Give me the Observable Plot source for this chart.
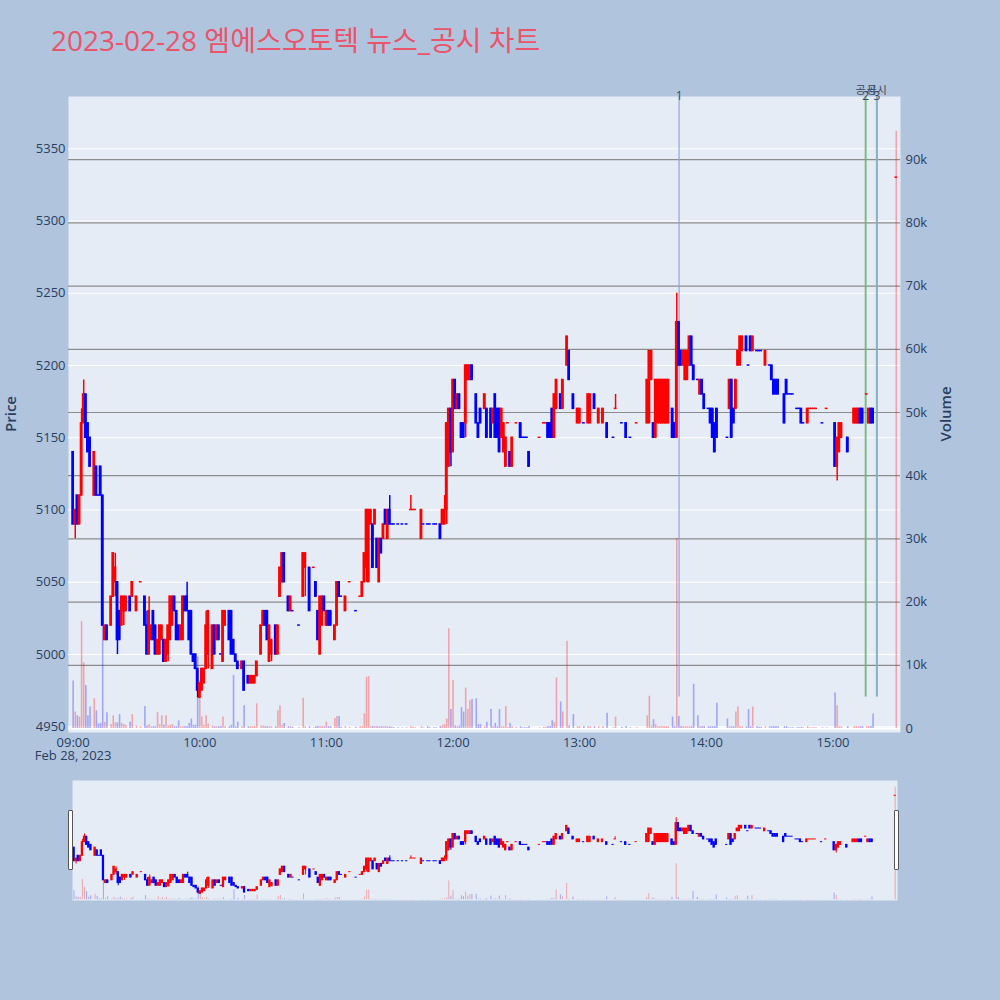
<!DOCTYPE html>
<html>
<head>
<meta charset="utf-8">
<script src="https://cdn.jsdelivr.net/npm/d3@7"></script>
<script src="https://cdn.jsdelivr.net/npm/@observablehq/plot@0.6"></script>
<style>
  html, body { margin: 0; padding: 0; background: #b0c4de; }
  #wrap { position: relative; width: 1000px; height: 1000px; background: #b0c4de; overflow: hidden;
          font-family: 'Open Sans', 'Noto Sans CJK KR', sans-serif; }
  .layer { position: absolute; left: 0; top: 0; }
  #title { position: absolute; left: 51px; top: 26px; font-size: 28px; line-height: 1; color: #e9546b; white-space: nowrap; }
  .ytitle { position: absolute; width: 80px; height: 20px; line-height: 20px; text-align: center;
            font-size: 15px; font-weight: 600; color: #2a3f5f; transform: rotate(-90deg); }
  .grab { position: absolute; top: 810px; width: 3px; height: 58px; background: #fff; border: 1px solid #555; border-radius: 1px; }
</style>
</head>
<body>
<div id="wrap">
  <div id="title">2023-02-28 엠에스오토텍 뉴스_공시 차트</div>
</div>
<script>
// ---- data: one-minute candles of 2023-02-28 (minutes after 09:00) ----
const minute = [
  0,1,2,3,4,5,6,7,8,10,11,12,13,14,15,16,18,19,20,21,22,23,24,25,27,28,
  30,32,34,35,36,37,38,39,40,41,42,43,44,45,46,47,48,49,50,51,52,53,54,55,56,57,58,59,60,61,62,63,64,
  66,67,68,69,70,71,72,74,75,76,77,78,80,81,83,84,85,86,87,89,90,91,92,93,94,96,97,98,99,100,
  102,103,104,107,109,110,112,114,115,116,117,118,119,120,121,122,124,125,126,127,129,131,134,136,137,138,139,140,
  141,142,143,144,145,146,147,148,149,150,151,152,154,156,158,160,161,162,165,166,168,169,171,172,174,175,176,177,178,179,180,
  181,182,183,184,185,186,187,188,189,191,192,193,195,196,198,199,200,201,202,203,204,205,206,207,208,210,212,213,214,215,216,
  221,223,224,225,226,227,228,229,231,232,234,235,237,239,240,242,244,245,247,249,251,253,256,257,260,262,264,
  267,272,273,274,275,276,277,278,279,280,281,282,284,285,286,287,288,289,290,291,292,293,294,296,297,298,299,301,302,303,304,305,
  310,311,312,313,314,315,316,317,319,320,321,322,324,325,326,328,330,331,332,333,334,337,338,339,340,341,343,344,345,346,348,349,350,351,352,355,357,
  361,362,363,364,367,370,371,372,373,374,376,377,378,379,390
];
const open = [
  5140,5090,5110,5090,5110,5160,5180,5160,5150,5110,5130,5110,5130,5110,5010,5020,5020,5040,5050,5050,5030,5020,5030,5030,5040,5040,
  5030,5050,5040,5020,5000,5010,5030,5020,5000,5000,5010,5010,4995,5000,5010,5020,5040,5030,5020,5010,5010,5040,5040,5030,5030,5000,5000,4990,4970,4975,4980,4990,5000,
  4990,5020,5010,5020,5000,4995,5020,5030,5030,5010,5000,4995,4990,4995,4985,4980,4980,4980,4985,5000,5020,5030,5030,4995,5000,5020,5000,5040,5050,5070,
  5040,5030,5030,5020,5040,5060,5060,5060,5050,5030,5000,5020,5040,5020,5030,5030,5010,5020,5050,5040,5030,5050,5030,5040,5040,5050,5060,5050,
  5090,5090,5090,5080,5050,5080,5080,5100,5080,5100,5090,5090,5090,5090,5090,5100,5100,5100,5080,5090,5090,5090,5090,5090,5090,5090,5090,5100,5130,5170,5140,
  5190,5170,5180,5160,5160,5160,5190,5190,5200,5180,5160,5170,5170,5170,5170,5160,5180,5170,5170,5150,5140,5130,5160,5140,5130,5160,5160,5150,5150,5150,5140,
  5150,5160,5160,5160,5160,5170,5150,5170,5180,5170,5200,5210,5180,5160,5160,5160,5160,5160,5180,5160,5160,5160,5150,5170,5160,5160,5150,
  5160,5160,5160,5190,5160,5150,5160,5160,5160,5160,5160,5160,5170,5160,5150,5230,5210,5200,5190,5190,5200,5220,5200,5190,5180,5190,5180,5170,5170,5170,5160,5170,
  5150,5170,5190,5170,5170,5200,5200,5210,5220,5200,5220,5210,5210,5210,5210,5200,5200,5200,5190,5190,5190,5180,5190,5180,5180,5180,5170,5170,5170,5160,5160,5170,5170,5170,5170,5160,5170,
  5160,5130,5140,5150,5150,5160,5160,5160,5170,5170,5180,5160,5170,5170,5330
];
const high = [
  5140,5100,5110,5110,5170,5190,5180,5160,5150,5140,5130,5110,5130,5110,5020,5020,5040,5070,5070,5050,5030,5040,5040,5040,5040,5050,
  5040,5050,5040,5030,5040,5020,5030,5020,5010,5020,5020,5010,5010,5020,5040,5040,5040,5030,5020,5020,5040,5040,5050,5030,5030,5000,5000,4990,4980,4990,4990,5030,5030,
  5020,5020,5020,5020,5000,5030,5030,5030,5030,5010,5000,4995,4995,4995,4985,4985,4985,4985,4995,5020,5030,5030,5030,5020,5010,5020,5020,5060,5070,5070,
  5040,5040,5030,5020,5070,5070,5060,5060,5050,5030,5040,5040,5040,5030,5030,5030,5020,5050,5050,5040,5040,5050,5030,5040,5050,5070,5100,5100,
  5100,5090,5100,5080,5080,5080,5090,5100,5100,5110,5090,5090,5090,5090,5090,5110,5100,5100,5100,5090,5090,5090,5090,5090,5090,5100,5110,5160,5170,5170,5190,
  5190,5180,5180,5160,5160,5200,5200,5200,5200,5180,5160,5170,5180,5170,5170,5170,5180,5170,5170,5170,5160,5150,5160,5140,5150,5160,5160,5150,5150,5150,5140,
  5150,5160,5160,5160,5160,5170,5180,5190,5180,5190,5220,5210,5180,5170,5170,5160,5180,5180,5180,5170,5170,5160,5150,5180,5160,5160,5150,
  5160,5190,5210,5210,5160,5190,5190,5190,5190,5190,5190,5190,5170,5160,5250,5230,5210,5210,5210,5210,5220,5220,5200,5190,5190,5190,5180,5170,5170,5170,5160,5170,
  5150,5190,5190,5170,5190,5210,5220,5220,5220,5200,5220,5220,5210,5210,5210,5210,5200,5200,5190,5190,5190,5180,5190,5180,5180,5180,5170,5170,5170,5160,5170,5170,5170,5170,5170,5160,5170,
  5160,5150,5160,5160,5150,5170,5170,5170,5170,5170,5180,5170,5170,5170,5330
];
const low = [
  5090,5080,5090,5090,5110,5160,5150,5140,5130,5110,5110,5110,5110,5020,5010,5010,5020,5040,5040,5000,5010,5020,5020,5030,5030,5040,
  5030,5050,5020,5000,5000,5010,5010,5000,5000,5000,5010,4995,4995,4995,5010,5020,5030,5010,5010,5010,5010,5030,5030,5010,5000,4995,4990,4970,4970,4975,4980,4990,4990,
  4990,5000,5010,5010,5000,4995,5020,5010,5000,5000,4995,4990,4990,4975,4980,4980,4980,4980,4985,5000,5020,5020,5010,4995,4995,5000,5000,5040,5050,5050,
  5030,5030,5030,5020,5040,5040,5030,5060,5040,5010,5000,5020,5030,5020,5020,5020,5010,5020,5040,5040,5030,5050,5030,5040,5040,5050,5050,5050,
  5090,5060,5090,5060,5050,5070,5080,5090,5080,5090,5090,5090,5090,5090,5090,5100,5100,5100,5080,5090,5090,5090,5090,5090,5080,5090,5090,5090,5130,5130,5140,
  5170,5170,5170,5150,5150,5150,5190,5190,5190,5160,5150,5160,5170,5150,5150,5160,5150,5150,5140,5150,5140,5130,5160,5130,5130,5160,5150,5150,5150,5150,5130,
  5150,5160,5160,5150,5150,5150,5150,5170,5170,5170,5200,5190,5170,5160,5160,5160,5160,5160,5170,5160,5160,5150,5150,5170,5160,5150,5150,
  5160,5160,5160,5190,5150,5150,5160,5160,5160,5160,5160,5160,5150,5150,5150,5200,5200,5200,5190,5190,5200,5200,5190,5190,5180,5180,5170,5170,5160,5150,5140,5150,
  5150,5170,5150,5160,5170,5200,5200,5210,5210,5200,5210,5210,5210,5210,5210,5200,5200,5190,5180,5180,5180,5160,5180,5180,5180,5180,5170,5170,5160,5160,5160,5170,5170,5170,5170,5160,5170,
  5130,5120,5140,5150,5140,5160,5160,5160,5160,5160,5180,5160,5160,5160,5330
];
const close = [
  5090,5100,5090,5110,5160,5180,5150,5140,5130,5140,5110,5110,5110,5020,5020,5010,5040,5070,5060,5010,5010,5040,5040,5040,5030,5050,
  5040,5050,5020,5000,5030,5020,5010,5000,5010,5020,5020,4995,5010,5020,5040,5040,5030,5010,5010,5020,5040,5030,5030,5010,5000,4995,4990,4975,4980,4990,4990,5020,5030,
  5020,5000,5020,5010,5000,5030,5030,5010,5000,5000,4995,4990,4995,4975,4980,4985,4985,4985,4995,5020,5030,5020,5010,5020,5010,5000,5020,5060,5070,5050,
  5030,5040,5030,5020,5070,5070,5030,5060,5040,5010,5040,5040,5030,5030,5020,5020,5020,5050,5040,5040,5040,5050,5030,5040,5050,5070,5100,5100,
  5100,5060,5100,5060,5080,5070,5090,5090,5100,5090,5090,5090,5090,5090,5090,5100,5100,5100,5100,5090,5090,5090,5090,5090,5080,5100,5100,5160,5170,5140,5190,
  5170,5180,5170,5150,5150,5200,5200,5200,5190,5160,5150,5160,5180,5150,5150,5170,5150,5150,5140,5170,5160,5150,5160,5130,5150,5160,5150,5150,5150,5150,5130,
  5150,5160,5160,5150,5150,5150,5180,5190,5170,5190,5220,5190,5170,5170,5170,5160,5180,5180,5170,5170,5170,5150,5150,5170,5160,5150,5150,
  5160,5190,5210,5210,5150,5190,5190,5190,5190,5190,5190,5190,5150,5150,5230,5200,5200,5210,5210,5210,5220,5200,5190,5190,5190,5180,5170,5170,5160,5150,5140,5150,
  5150,5190,5150,5160,5190,5210,5220,5220,5210,5200,5210,5220,5210,5210,5210,5210,5200,5190,5180,5180,5180,5160,5180,5180,5180,5180,5170,5170,5160,5160,5170,5170,5170,5170,5170,5160,5170,
  5130,5150,5160,5160,5140,5170,5170,5170,5160,5160,5180,5170,5160,5160,5330
];
const volume = [
  7500,2600,2000,1800,16900,10400,6800,2000,3400,4700,2800,700,800,18000,1000,2500,600,2000,900,900,2200,800,600,500,1000,2200,
  400,300,3500,400,600,300,300,300,2500,600,2000,500,2000,400,500,600,300,300,1200,300,300,300,300,800,1500,500,500,11300,7600,1800,500,2000,700,
  400,300,300,300,300,1800,300,300,500,8400,300,1000,300,3600,300,300,300,300,3900,400,400,300,300,300,300,300,2800,3600,500,800,
  300,300,200,100,4800,300,300,100,300,300,300,300,300,1000,300,300,1600,1900,1900,200,300,200,200,300,300,2300,8100,8200,
  300,300,300,300,300,300,300,300,300,300,200,100,100,100,100,300,200,100,300,100,300,100,100,100,300,500,600,1500,15800,3000,7600,
  400,300,400,3300,2600,6400,3000,4400,4600,4700,600,600,300,1000,3000,300,800,300,3000,300,300,3500,200,800,300,200,300,100,100,100,300,
  100,200,200,300,300,1200,900,8000,4200,2600,13800,400,2200,300,300,300,300,300,300,300,300,2400,100,1800,200,300,100,
  100,2000,5100,400,1400,600,300,300,300,300,300,300,1800,300,30100,1900,300,300,300,300,300,300,7000,2000,300,300,300,300,300,300,300,4000,
  1500,300,300,300,2600,3400,300,300,300,3000,300,3400,300,200,200,300,300,300,300,300,300,300,300,100,100,100,100,100,200,100,300,100,100,100,100,100,100,
  5600,3600,300,300,300,300,300,300,300,300,300,300,300,2300,94500
];

// tick labels and annotation items
const priceTicks = [4950, 5000, 5050, 5100, 5150, 5200, 5250, 5300, 5350];
const volumeTicks = [0, 10000, 20000, 30000, 40000, 50000, 60000, 70000, 80000, 90000];
const hourLabels = ["09:00", "10:00", "11:00", "12:00", "13:00", "14:00", "15:00"];
const dateLabel = "Feb 28, 2023";
const noticeTime = ["13:47:06", "15:15:30", "15:20:48"];
const noticeNumber = ["1", "2", "3"];
const noticeTitle = ["", "공시", "공시"];

// ---- build ----
const T0 = Date.UTC(2023, 1, 28, 9, 0);
const at = m => new Date(T0 + m * 60000);
const clock = s => { const [H, M, S = 0] = s.split(":").map(Number); return new Date(Date.UTC(2023, 1, 28, H, M, S)); };
const UP = "#ff0000", DOWN = "#0000ff";

let inc = true, prevC = null;
const rows = minute.map((m, i) => {
  const o = open[i], c = close[i];
  if (c !== o) inc = c > o;
  else if (prevC !== null && c !== prevC) inc = c > prevC;
  prevC = c;
  return {t: at(m), t0: at(m - 0.3), t1: at(m + 0.3), o, h: high[i], l: low[i], c, v: volume[i],
          lo: Math.min(o, c), hi: Math.max(o, c), col: inc ? UP : DOWN};
});
const notices = noticeTime.map((s, i) => ({t: clock(s), n: noticeNumber[i], title: noticeTitle[i]}));
const hourDates = hourLabels.map(clock);

const fontFamily = "'Open Sans','Noto Sans CJK KR',sans-serif";
const priceDomain = [4946, 5386.2];
const volumeDomain = [-633, 100000];
const base = o => Object.assign({
  width: 1000, height: 1000,
  style: {background: "transparent", fontFamily, fontSize: "13px", color: "#2a3f5f", overflow: "visible"},
  color: {type: "identity"}
}, o);
const mainM = {marginTop: 96, marginBottom: 268, marginLeft: 68, marginRight: 100};
const rsM = {marginTop: 780, marginBottom: 100, marginLeft: 72, marginRight: 103};
const mainDomain = [at(-2.2), at(392)];
const rsDomain = [at(-0.7), at(391.1)];

const wrap = document.getElementById("wrap");
const add = el => { el.classList.add("layer"); wrap.appendChild(el); };

function candles(data, wick, inset) {
  return [
    Plot.ruleX(data, {x: "t", y1: "l", y2: "h", stroke: "col", strokeWidth: wick}),
    Plot.rect(data, {x1: "t0", x2: "t1", y1: "lo", y2: "hi", fill: "col", inset: -inset})
  ];
}

// layer 1: background, price grid, left and bottom axes
add(Plot.plot(base({
  ...mainM,
  x: {type: "utc", domain: mainDomain},
  y: {domain: priceDomain},
  marks: [
    Plot.frame({fill: "#e5ecf6", stroke: "none"}),
    Plot.gridY(priceTicks, {stroke: "#ffffff", strokeOpacity: 1, strokeWidth: 1}),
    Plot.axisY(priceTicks, {anchor: "left", tickSize: 0, tickPadding: 3, tickFormat: d3.format("d"), label: null}),
    Plot.axisX(hourDates, {anchor: "bottom", tickSize: 0, tickPadding: 5, label: null,
      tickFormat: d => d.getUTCHours() === 9 ? d3.utcFormat("%H:%M")(d) + "\n" + dateLabel : d3.utcFormat("%H:%M")(d)})
  ]
})));

// layer 2: volume grid, volume bars, notice lines, right axis
add(Plot.plot(base({
  ...mainM,
  x: {type: "utc", domain: mainDomain, axis: null},
  y: {domain: volumeDomain},
  marks: [
    Plot.ruleY([0], {stroke: "#ffffff", strokeWidth: 2}),
    Plot.gridY(volumeTicks.filter(v => v > 0), {stroke: "#8c8c8c", strokeOpacity: 1, strokeWidth: 1.2}),
    Plot.ruleX(rows, {x: "t", y1: 0, y2: "v", stroke: "col", strokeOpacity: 0.3, strokeWidth: 1.6}),
    Plot.ruleX(notices.slice(0, 1), {x: "t", y1: 5000, y2: volumeDomain[1], stroke: "#8f9ee0", strokeOpacity: 0.75, strokeWidth: 1.5}),
    Plot.ruleX(notices.slice(1), {x: "t", y1: 5000, y2: volumeDomain[1], stroke: "#6fb36f", strokeOpacity: 0.85, strokeWidth: 2}),
    Plot.ruleX(notices.slice(2), {x: "t", y1: 5000, y2: volumeDomain[1], stroke: "#8fb0e0", strokeOpacity: 0.9, strokeWidth: 1.2}),
    Plot.text(notices, {x: "t", y: () => volumeDomain[1], text: "n", dy: 0, fontSize: 12, fill: "#3c4a62"}),
    Plot.text(notices, {x: "t", y: () => volumeDomain[1], text: "title", dy: -6, fontSize: 11, fill: "#3c4a62"}),
    Plot.axisY(volumeTicks, {anchor: "right", tickSize: 0, tickPadding: 5, tickFormat: d3.format("~s"), label: null})
  ]
})));

// layer 3: candles
add(Plot.plot(base({
  ...mainM,
  x: {type: "utc", domain: mainDomain, axis: null},
  y: {domain: priceDomain, axis: null},
  marks: candles(rows, 1.5, 0.75)
})));

// range slider: background + volume, then candles
add(Plot.plot(base({
  ...rsM,
  x: {type: "utc", domain: rsDomain, axis: null},
  y: {domain: volumeDomain, axis: null},
  marks: [
    Plot.frame({fill: "#e5ecf6", stroke: "none"}),
    Plot.ruleX(rows, {x: "t", y1: 0, y2: "v", stroke: "col", strokeOpacity: 0.3, strokeWidth: 1})
  ]
})));
add(Plot.plot(base({
  ...rsM,
  x: {type: "utc", domain: rsDomain, axis: null},
  y: {domain: priceDomain, axis: null},
  marks: candles(rows, 1, 0.5)
})));

// axis titles and slider grabbers
const mk = (cls, txt, css) => { const d = document.createElement("div"); d.className = cls; d.textContent = txt; Object.assign(d.style, css); wrap.appendChild(d); };
mk("ytitle", "Price", {left: (10 - 40) + "px", top: (414 - 10) + "px"});
mk("ytitle", "Volume", {left: (945 - 40) + "px", top: (414 - 10) + "px"});
mk("grab", "", {left: "68px"});
mk("grab", "", {left: "894px"});
</script>
</body>
</html>
